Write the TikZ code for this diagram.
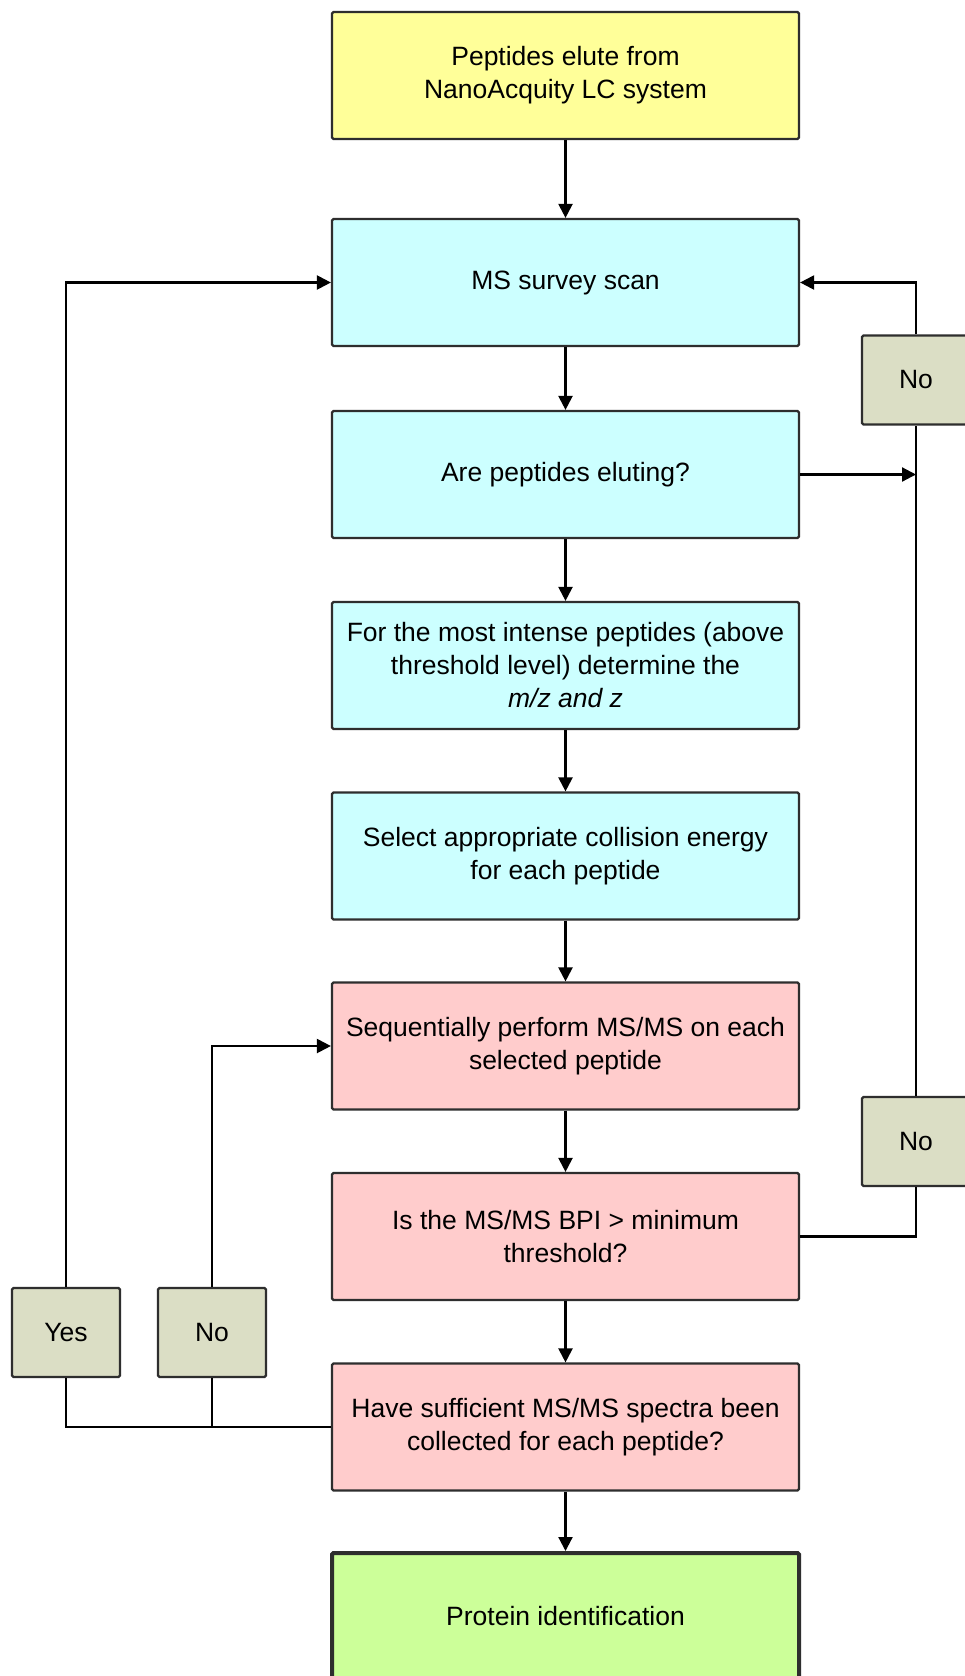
\documentclass[tikz,border=0pt]{standalone}
\usepackage{fontspec}
\setmainfont{Liberation Sans}
\usetikzlibrary{arrows.meta}

\definecolor{cYellow}{HTML}{FFFF99}
\definecolor{cBlue}{HTML}{CCFFFF}
\definecolor{cPink}{HTML}{FFCCCC}
\definecolor{cGreen}{HTML}{CCFF99}
\definecolor{cTag}{HTML}{DBDEC5}
\definecolor{cEdge}{HTML}{2E2E2E}

\tikzset{
  box/.style={draw=cEdge, line width=2.2pt, rounded corners=1.5pt,
    minimum width=467pt, minimum height=127pt, inner sep=0pt,
    align=center, font=\fontsize{26.5}{33}\selectfont},
  tag/.style={draw=cEdge, line width=2.2pt, rounded corners=1.5pt, fill=cTag,
    minimum width=108pt, minimum height=89pt, inner sep=0pt,
    font=\fontsize{26.5}{33}\selectfont},
  link/.style={line width=2.2pt, draw=black},
  arr/.style={link, -{Triangle[length=14pt,width=14pt]}},
}

\begin{document}
\begin{tikzpicture}[x=1pt,y=-1pt]
  \clip (0,0) rectangle (965,1676);
  \fill[white] (0,0) rectangle (965,1676);

  % main flow
  \node[box, fill=cYellow] (n0) at (565.5,75.5) {Peptides elute from\\NanoAcquity LC system};
  \node[box, fill=cBlue] (n1) at (565.5,282.5) {MS survey scan};
  \node[box, fill=cBlue] (n2) at (565.5,474.5) {Are peptides eluting?};
  \node[box, fill=cBlue] (n3) at (565.5,665.5) {For the most intense peptides (above\\threshold level) determine the\\\textit{m/z and z}};
  \node[box, fill=cBlue] (n4) at (565.5,856) {Select appropriate collision energy\\for each peptide};
  \node[box, fill=cPink] (n5) at (565.5,1046) {Sequentially perform MS/MS on each\\selected peptide};
  \node[box, fill=cPink] (n6) at (565.5,1236.5) {Is the MS/MS BPI {>} minimum\\threshold?};
  \node[box, fill=cPink] (n7) at (565.5,1427) {Have sufficient MS/MS spectra been\\collected for each peptide?};
  \node[box, fill=cGreen, line width=4pt] (n8) at (565.5,1616.5) {Protein identification};

  % decision labels
  \node[tag] (noA) at (916,380) {No};
  \node[tag] (noB) at (916,1141.5) {No};
  \node[tag] (yes) at (66,1332.5) {Yes};
  \node[tag] (noC) at (212,1332.5) {No};

  % straight-down arrows
  \foreach \a/\b in {n0/n1,n1/n2,n2/n3,n3/n4,n4/n5,n5/n6,n6/n7,n7/n8}
    \draw[arr] (\a) -- (\b);

  % right-hand loops back to the survey scan
  \draw[arr] (n2.east) -- (n2.east -| noA.center);
  \draw[arr] (noA.north) |- (n1.east);
  \draw[link] (noB.north) -- (noA.south);
  \draw[link] (n6.east) -| (noB.south);

  % left-hand loops
  \draw[link] (n7.west) -- (n7.west -| yes.center) -- (yes.south);
  \draw[link] (noC.south) -- (noC.south |- n7.west);
  \draw[arr] (yes.north) |- (n1.west);
  \draw[arr] (noC.north) |- (n5.west);
\end{tikzpicture}
\end{document}
